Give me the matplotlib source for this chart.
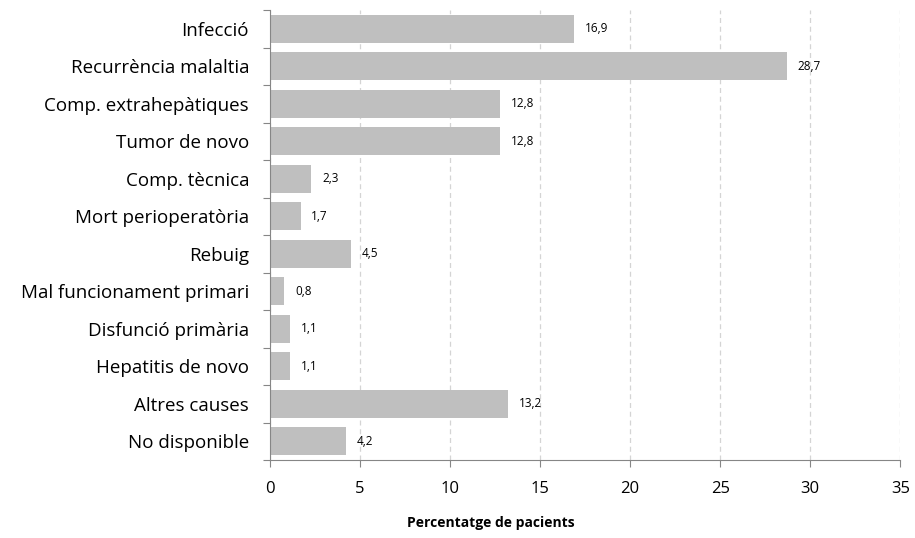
import matplotlib
matplotlib.use("Agg")
import matplotlib.pyplot as plt
import numpy as np

plt.rcParams['font.family'] = ['Open Sans', 'DejaVu Sans']

categories = [
    "Infecció", "Recurrència malaltia", "Comp. extrahepàtiques", "Tumor de novo",
    "Comp. tècnica", "Mort perioperatòria", "Rebuig", "Mal funcionament primari",
    "Disfunció primària", "Hepatitis de novo", "Altres causes", "No disponible",
]
values = [16.9, 28.7, 12.8, 12.8, 2.3, 1.7, 4.5, 0.8, 1.1, 1.1, 13.2, 4.2]
labels = ["16,9", "28,7", "12,8", "12,8", "2,3", "1,7", "4,5", "0,8", "1,1", "1,1", "13,2", "4,2"]
xticks = [0, 5, 10, 15, 20, 25, 30, 35]

fig = plt.figure(figsize=(9.15, 5.38), dpi=100)
ax = fig.add_axes([0.295, 0.145, 0.689, 0.836])

pos = np.arange(len(categories))
ax.barh(pos, values, height=0.75, color="#bfbfbf", zorder=2)
for p, v, t in zip(pos, values, labels):
    ax.text(v + 0.6, p, t, va="center", ha="left", fontsize=8.5, color="#000000")

ax.set_ylim(len(categories) - 0.5, -0.5)
ax.set_xlim(0, 35)
ax.set_xticks(xticks)
ax.set_xticklabels([str(x) for x in xticks], fontsize=12)

# category ticks sit between rows, labels in the middle
ax.set_yticks(np.arange(-0.5, len(categories)), minor=False)
ax.set_yticklabels([])
ax.set_yticks(pos, minor=True)
ax.set_yticklabels(categories, minor=True, fontsize=13.5)
ax.tick_params(axis="y", which="minor", length=0, pad=15)
ax.tick_params(axis="y", which="major", length=5, color="#868686")
ax.tick_params(axis="x", length=5, color="#868686", pad=10)

ax.xaxis.grid(True, linestyle=(0, (4, 3)), color="#d4d4d4", linewidth=0.9, zorder=0)
for s in ["top", "right"]:
    ax.spines[s].set_visible(False)
for s in ["left", "bottom"]:
    ax.spines[s].set_color("#868686")

ax.set_xlabel("Percentatge de pacients", fontsize=10, fontweight="bold")
ax.xaxis.set_label_coords(0.351, -0.125)

fig.savefig("out.png", dpi=100)
